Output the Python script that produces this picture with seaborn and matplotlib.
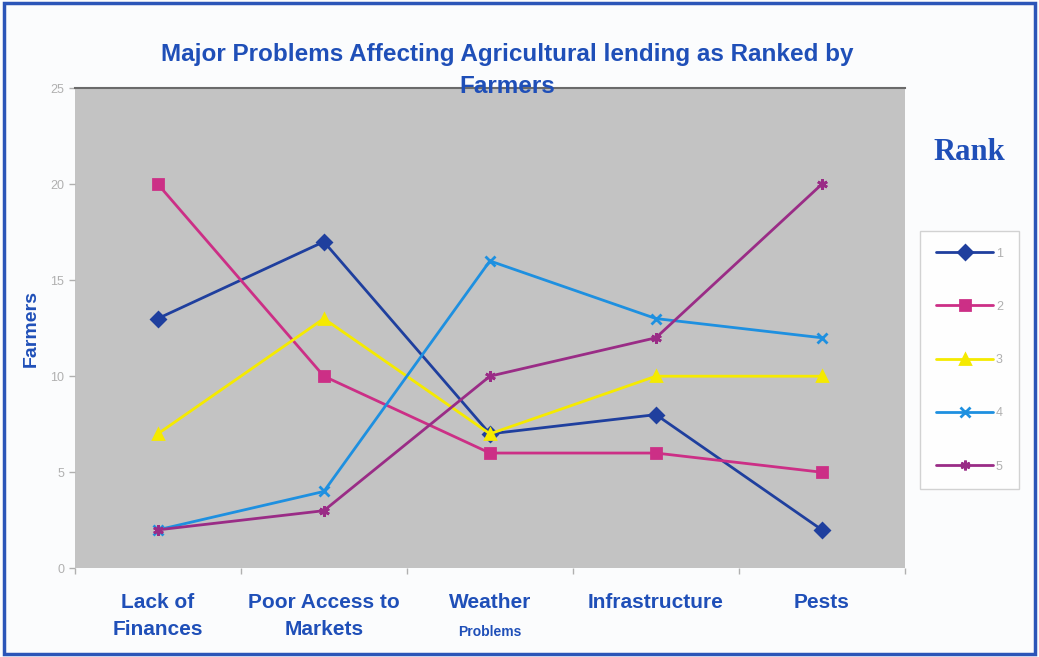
import numpy as np
import pandas as pd
import matplotlib
matplotlib.use("Agg")
import matplotlib.pyplot as plt
from matplotlib.lines import Line2D
from matplotlib.patches import Rectangle
import seaborn as sns

PROBLEMS = ["Lack of\nFinances", "Poor Access to\nMarkets", "Weather", "Infrastructure", "Pests"]
RANKS = ["1", "2", "3", "4", "5"]
RANK_1 = [13, 17, 7, 8, 2]
RANK_2 = [20, 10, 6, 6, 5]
RANK_3 = [7, 13, 7, 10, 10]
RANK_4 = [2, 4, 16, 13, 12]
RANK_5 = [2, 3, 10, 12, 20]

COLORS = ["#1f3f9e", "#cc2f86", "#f5ea00", "#1e90e0", "#9a2c86"]
MARKERS = ["D", "s", "^", "x", (6, 2, 0)]
BLUE = "#1f4fb8"

rows = []
for rank, values in zip(RANKS, [RANK_1, RANK_2, RANK_3, RANK_4, RANK_5]):
    for i, v in enumerate(values):
        rows.append({"pos": i, "Farmers": v, "Rank": rank})
df = pd.DataFrame(rows)

sns.set_theme(style="white")
plt.rcParams["font.family"] = ["Liberation Sans", "DejaVu Sans"]

fig = plt.figure(figsize=(10.39, 6.57), dpi=100)
fig.patch.set_facecolor("#fbfcfd")
ax = fig.add_axes([0.072, 0.135, 0.799, 0.731])
ax.set_facecolor("#c3c3c3")

# one call per rank: seaborn will not mix filled and line-art markers in one call
for rank, c, m in zip(RANKS, COLORS, MARKERS):
    sns.lineplot(
        data=df[df["Rank"] == rank], x="pos", y="Farmers", color=c,
        marker=m, markersize=7.5, markeredgewidth=2, markeredgecolor=c, markerfacecolor=c,
        linewidth=2, legend=False, ax=ax,
    )

ax.set_xlim(-0.5, 4.5)
ax.set_ylim(0, 25)
ax.set_yticks(range(0, 26, 5))
ax.tick_params(axis="y", colors="#b0b0b0", labelsize=9, length=4, width=1, left=True)
ax.set_xticks(range(5))
ax.set_xticklabels(PROBLEMS, color=BLUE, fontsize=15, fontweight="bold", linespacing=1.5)
ax.set_xticks(np.arange(-0.5, 4.6, 1), minor=True)
ax.tick_params(axis="x", which="major", length=0, pad=18)
ax.tick_params(axis="x", which="minor", length=4, color="#b0b0b0", bottom=True)
ax.text(2, -0.118, "Problems", transform=ax.get_xaxis_transform(), ha="center", va="top",
        color=BLUE, fontsize=10, fontweight="bold")

ax.set_xlabel("")
ax.set_ylabel("Farmers", color=BLUE, fontsize=14, fontweight="bold", labelpad=8)
for side in ["left", "right", "bottom"]:
    ax.spines[side].set_visible(False)
ax.spines["top"].set_color("#6a6a6a")
ax.spines["top"].set_linewidth(1.5)

fig.text(0.488, 0.893, "Major Problems Affecting Agricultural lending as Ranked by\nFarmers",
         ha="center", va="center", color=BLUE, fontsize=17.5, fontweight="bold", linespacing=1.5)

fig.text(0.933, 0.768, "Rank", ha="center", va="center", color=BLUE, fontsize=22,
         fontweight="bold", family=["Liberation Serif", "DejaVu Serif"])

handles = [Line2D([0], [0], color=c, marker=m, markersize=7, markeredgewidth=2,
                  markerfacecolor=c, markeredgecolor=c, linewidth=2)
           for c, m in zip(COLORS, MARKERS)]
leg = fig.legend(handles, RANKS, loc="center", bbox_to_anchor=(0.933, 0.452), frameon=True,
                 fontsize=9, labelspacing=3.3, handlelength=4.6, handletextpad=0.2,
                 borderpad=1.3, fancybox=False)
leg.get_frame().set_edgecolor("#c8c8c8")
leg.get_frame().set_facecolor("white")
for t in leg.get_texts():
    t.set_color("#b0b0b0")

fig.add_artist(Rectangle((0.004, 0.004), 0.992, 0.992, transform=fig.transFigure,
                         fill=False, edgecolor="#2b55b8", linewidth=2.5))

fig.savefig("out.png", dpi=100, facecolor=fig.get_facecolor())
